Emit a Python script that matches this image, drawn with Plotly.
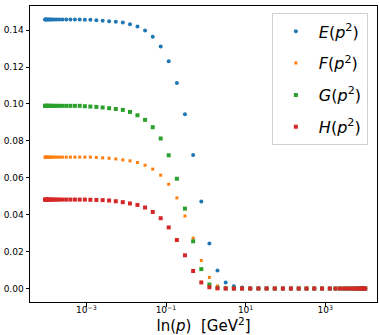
import plotly.graph_objects as go

# log10(p) of the sample points
log10_p = [-4.040, -4.025, -4.008, -3.987, -3.965, -3.940, -3.910, -3.877, -3.840, -3.794,
           -3.739, -3.677, -3.602, -3.506, -3.401, -3.288, -3.168, -3.038, -2.900, -2.749,
           -2.591, -2.429, -2.261, -2.085, -1.905, -1.717, -1.526, -1.333, -1.133, -0.932,
           -0.727, -0.524, -0.318, -0.113, 0.090, 0.293, 0.499, 0.704, 0.910, 1.115,
           1.321, 1.526, 1.732, 1.937, 2.138, 2.333, 2.529, 2.724, 2.920, 3.115,
           3.258, 3.371, 3.474, 3.561, 3.642, 3.714, 3.777, 3.832, 3.880, 3.920,
           3.955, 3.982, 4.005]

E_vals = [0.1458] * 17 + [0.1457, 0.1456, 0.1454, 0.1451, 0.1449, 0.1446, 0.1441, 0.1432, 0.1420,
          0.1398, 0.1364, 0.1312, 0.1232, 0.1114, 0.0945, 0.0724, 0.0472, 0.0244, 0.0098,
          0.0033, 0.0012, 0.0005, 0.0002, 0.0001, 0.0001] + [0.0] * 22
F_vals = [0.0712] * 19 + [0.0710, 0.0708, 0.0706, 0.0702, 0.0697, 0.0692, 0.0683, 0.0668, 0.0647,
          0.0614, 0.0565, 0.0491, 0.0393, 0.0273, 0.0152, 0.0060, 0.0014, 0.0003, 0.0001] + [0.0] * 26
G_vals = [0.0990] * 17 + [0.0988, 0.0986, 0.0984, 0.0981, 0.0977, 0.0973, 0.0968, 0.0957, 0.0939,
          0.0914, 0.0874, 0.0813, 0.0722, 0.0595, 0.0433, 0.0256, 0.0105, 0.0022, 0.0004,
          0.0001] + [0.0] * 27
H_vals = [0.0482] * 18 + [0.0481, 0.0480, 0.0479, 0.0477, 0.0473, 0.0468, 0.0461, 0.0453, 0.0439,
          0.0415, 0.0381, 0.0331, 0.0263, 0.0180, 0.0095, 0.0033, 0.0007, 0.0001] + [0.0] * 27

series_names = ["<i>E</i>(<i>p</i><sup>2</sup>)", "<i>F</i>(<i>p</i><sup>2</sup>)",
                "<i>G</i>(<i>p</i><sup>2</sup>)", "<i>H</i>(<i>p</i><sup>2</sup>)"]
y_ticks = [0.00, 0.02, 0.04, 0.06, 0.08, 0.10, 0.12, 0.14]
x_ticks = [1e-3, 1e-1, 1e1, 1e3]
x_tick_labels = ["10<sup>\u22123</sup>", "10<sup>\u22121</sup>", "10<sup>1</sup>", "10<sup>3</sup>"]

p = [10 ** v for v in log10_p]

colors = ["#1f77b4", "#ff7f0e", "#2ca02c", "#d62728"]
symbols = ["circle", "square", "square", "square"]
sizes = [4, 3, 4, 4]

fig = go.Figure()
for i, vals in enumerate([E_vals, F_vals, G_vals, H_vals]):
    fig.add_trace(go.Scatter(
        x=p, y=vals, mode="markers", name=series_names[i], legendgroup=str(i),
        marker=dict(color=colors[i], symbol=symbols[i], size=sizes[i], line=dict(width=0)),
    ))

axis_common = dict(showline=True, mirror=True, linecolor="black", linewidth=1,
                   ticks="outside", ticklen=3.5, tickwidth=0.8, tickcolor="black",
                   showgrid=False, zeroline=False, automargin=False,
                   tickfont=dict(family="DejaVu Sans", size=9, color="black"))

fig.update_layout(
    width=379, height=335,
    margin=dict(l=30, r=2, t=6, b=33),
    paper_bgcolor="white", plot_bgcolor="white",
    font=dict(family="DejaVu Sans", color="black"),
    xaxis=dict(type="log", range=[-4.416, 4.30], tickvals=x_ticks, ticktext=x_tick_labels,
               ticklabelstandoff=-4,
               title=dict(text="ln(<i>p</i>)\u00a0\u00a0[GeV<sup>2</sup>]",
                          font=dict(family="DejaVu Sans", size=15), standoff=2),
               **axis_common),
    yaxis=dict(range=[-0.0073, 0.1531], tickvals=y_ticks, tickformat=".2f", **axis_common),
    legend=dict(x=0.697, y=0.975, xanchor="left", yanchor="top",
                font=dict(family="DejaVu Sans", size=16, color="black"),
                bordercolor="#d0d0d0", borderwidth=1, bgcolor="rgba(255,255,255,0.8)",
                tracegroupgap=8, itemwidth=36),
    showlegend=True,
)

fig.write_html("out.html", config={"displayModeBar": False},
               post_script="document.body.style.margin='0';document.body.style.overflow='hidden';")
